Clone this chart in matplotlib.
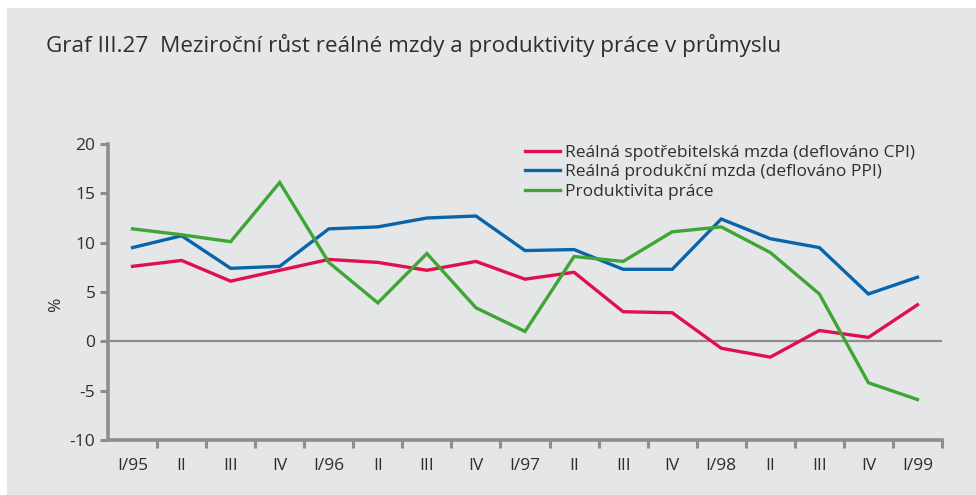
import matplotlib
matplotlib.use("Agg")
import matplotlib.pyplot as plt
from matplotlib.patches import Rectangle

plt.rcParams['font.family'] = ['Open Sans', 'DejaVu Sans']

quarters = ["I/95", "II", "III", "IV", "I/96", "II", "III", "IV", "I/97",
            "II", "III", "IV", "I/98", "II", "III", "IV", "I/99"]

real_wage_cpi = [7.6, 8.2, 6.1, 7.2, 8.3, 8.0, 7.2, 8.1, 6.3,
                 7.0, 3.0, 2.9, -0.7, -1.6, 1.1, 0.4, 3.7]
real_wage_ppi = [9.5, 10.7, 7.4, 7.6, 11.4, 11.6, 12.5, 12.7, 9.2,
                 9.3, 7.3, 7.3, 12.4, 10.4, 9.5, 4.8, 6.5]
productivity = [11.4, 10.8, 10.1, 16.1, 8.0, 3.9, 8.9, 3.4, 1.0,
                8.6, 8.1, 11.1, 11.6, 9.0, 4.8, -4.2, -5.9]

series_labels = ["Reálná spotřebitelská mzda (deflováno CPI)",
                 "Reálná produkční mzda (deflováno PPI)",
                 "Produktivita práce"]
series_colors = ["#e0104f", "#0a64aa", "#3fa535"]

yticks = [20, 15, 10, 5, 0, -5, -10]

W, H = 976, 495
fig = plt.figure(figsize=(W / 100, H / 100), dpi=100)
fig.patch.set_facecolor("white")
bg = "#e5e6e8"
fig.patches.append(Rectangle((7 / W, 0), 1 - 7 / W, 1 - 8 / H,
                             transform=fig.transFigure, facecolor=bg,
                             edgecolor="none", zorder=-10))

ax = fig.add_axes([108 / W, 1 - 440 / H, (942 - 108) / W, (440 - 144) / H])
ax.set_facecolor("none")

text_color = "#2e2e2e"
axis_color = "#8c8d8f"

x = list(range(len(quarters)))
for vals, lab, col in zip([real_wage_cpi, real_wage_ppi, productivity],
                          series_labels, series_colors):
    ax.plot(x, vals, color=col, lw=2.4, label=lab, solid_joinstyle="miter")

ax.axhline(0, color=axis_color, lw=1.6, zorder=0)

ax.set_xlim(-0.5, len(quarters) - 0.5)
ax.set_ylim(-10, 20)
ax.set_yticks(yticks)
ax.set_yticklabels([str(v) for v in yticks])

# category labels centered, tick marks on the boundaries
ax.set_xticks(x)
ax.set_xticklabels(quarters)
ax.tick_params(axis="x", which="major", length=0, pad=13,
               labelsize=12.5, labelcolor=text_color)
ax.set_xticks([i + 0.5 for i in range(len(quarters))], minor=True)
ax.tick_params(axis="x", which="minor", length=6, width=2.2,
               color=axis_color, direction="out")
ax.tick_params(axis="y", length=6, width=2.2, color=axis_color,
               labelsize=12.5, labelcolor=text_color, pad=3)

for s in ["top", "right"]:
    ax.spines[s].set_visible(False)
for s in ["left", "bottom"]:
    ax.spines[s].set_color(axis_color)
    ax.spines[s].set_linewidth(2.6)

fig.text(56 / W, 1 - 305 / H, "%", fontsize=12.5, color=text_color,
         rotation=90, ha="center", va="center")

leg = ax.legend(loc="upper left", bbox_to_anchor=((518 - 108) / (942 - 108), 1.02),
                frameon=False, fontsize=12.5, handlelength=2.0,
                handletextpad=0.3, labelspacing=0.18, borderaxespad=0)
for t in leg.get_texts():
    t.set_color(text_color)

fig.text(46 / W, 1 - 52 / H, "Graf III.27  Meziroční růst reálné mzdy a produktivity práce v průmyslu",
         fontsize=16.2, color=text_color, va="baseline", ha="left")

fig.savefig("out.png", dpi=100, facecolor=fig.get_facecolor())
